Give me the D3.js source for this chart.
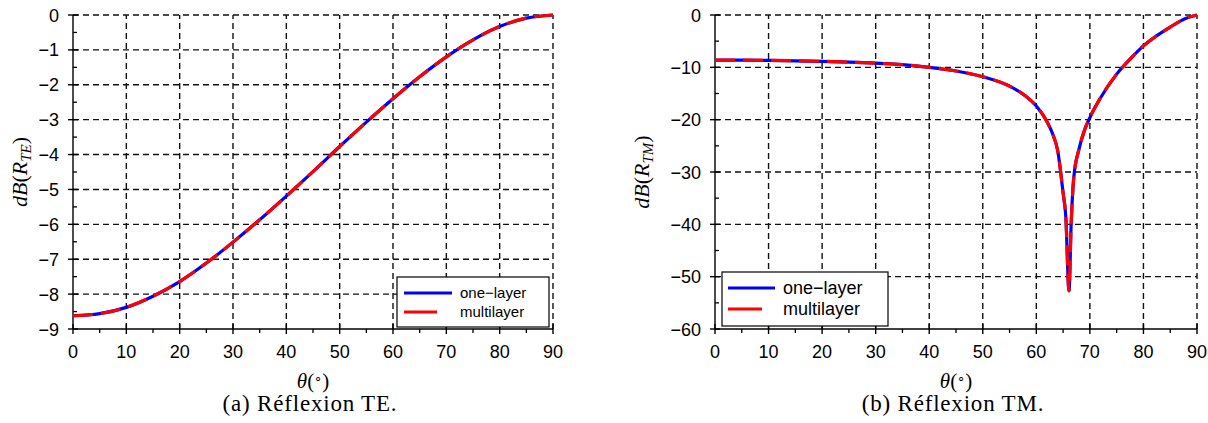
<!DOCTYPE html>
<html>
<head>
<meta charset="utf-8">
<script src="https://cdn.jsdelivr.net/npm/d3@7"></script>
<style>
  html, body { margin: 0; padding: 0; background: #fff; }
  svg { display: block; }
</style>
</head>
<body>
<svg id="chart" width="1208" height="423"></svg>
<script>
// ---------- data ----------
const teTheta = [0, 5, 10, 15, 20, 25, 30, 35, 40, 45, 50, 55, 60, 65, 70, 75, 80, 85, 90];
const teOneLayer = [-8.62, -8.56, -8.38, -8.06, -7.64, -7.11, -6.51, -5.87, -5.19, -4.49, -3.77, -3.07, -2.40, -1.77, -1.20, -0.71, -0.33, -0.09, 0];
const teMultilayer = [-8.62, -8.56, -8.38, -8.06, -7.64, -7.11, -6.51, -5.87, -5.19, -4.49, -3.77, -3.07, -2.40, -1.77, -1.20, -0.71, -0.33, -0.09, 0];

const tmTheta = [0, 5, 10, 15, 20, 25, 30, 35, 40, 45, 50, 55, 58, 60, 62, 63, 64, 65, 65.5, 66.1, 66.5, 67, 68, 69, 70, 72, 75, 78, 80, 83, 85, 88, 90];
const tmOneLayer = [-8.62, -8.64, -8.68, -8.75, -8.85, -9.0, -9.2, -9.5, -10.0, -10.7, -11.8, -13.6, -15.5, -17.4, -20.4, -22.6, -26, -34, -38.5, -52.7, -40, -31, -25.5, -22, -19.6, -15.8, -11.3, -7.9, -5.9, -3.6, -2.3, -0.6, 0];
const tmMultilayer = [-8.62, -8.64, -8.68, -8.75, -8.85, -9.0, -9.2, -9.5, -10.0, -10.7, -11.8, -13.6, -15.5, -17.4, -20.4, -22.6, -26, -34, -38.5, -52.7, -40, -31, -25.5, -22, -19.6, -15.8, -11.3, -7.9, -5.9, -3.6, -2.3, -0.6, 0];

const xTicks = [0, 10, 20, 30, 40, 50, 60, 70, 80, 90];
const teYTicks = [0, -1, -2, -3, -4, -5, -6, -7, -8, -9];
const tmYTicks = [0, -10, -20, -30, -40, -50, -60];
const legendLabels = ["one\u2212layer", "multilayer"];
const seriesColors = ["#0000ff", "#ff0000"];

// ---------- drawing ----------
const svg = d3.select("#chart");

function panel(cfg) {
  const x = d3.scaleLinear().domain([0, 90]).range([cfg.x0, cfg.x1]);
  const y = d3.scaleLinear().domain(cfg.yDomain).range([cfg.yBottom, cfg.yTop]);
  const g = svg.append("g");

  // grid
  const gridStyle = sel => sel.attr("stroke", "#111").attr("stroke-width", 1.4).attr("stroke-dasharray", "6,4").attr("fill", "none");
  g.selectAll(".vg").data(xTicks.filter(d => d !== 0)).enter().append("line")
    .attr("x1", d => x(d)).attr("x2", d => x(d)).attr("y1", cfg.yBottom).attr("y2", cfg.yTop).call(gridStyle);
  g.selectAll(".hg").data(cfg.yTicks.filter(d => d !== cfg.yDomain[0])).enter().append("line")
    .attr("x1", cfg.x0).attr("x2", cfg.x1).attr("y1", d => y(d)).attr("y2", d => y(d)).call(gridStyle);

  // axes lines
  g.append("line").attr("x1", cfg.x0).attr("x2", cfg.x1).attr("y1", cfg.yBottom).attr("y2", cfg.yBottom).attr("stroke", "#000").attr("stroke-width", 1.4);
  g.append("line").attr("x1", cfg.x0).attr("x2", cfg.x0).attr("y1", cfg.yBottom).attr("y2", cfg.yTop).attr("stroke", "#000").attr("stroke-width", 1.4);

  // x ticks major & minor
  g.selectAll(".xt").data(xTicks).enter().append("line")
    .attr("x1", d => x(d)).attr("x2", d => x(d)).attr("y1", cfg.yBottom - 5).attr("y2", cfg.yBottom + 5)
    .attr("stroke", "#000").attr("stroke-width", 1.4);
  const xMinor = xTicks.slice(0, -1).map(d => d + 5);
  g.selectAll(".xm").data(xMinor).enter().append("line")
    .attr("x1", d => x(d)).attr("x2", d => x(d)).attr("y1", cfg.yBottom).attr("y2", cfg.yBottom + 4)
    .attr("stroke", "#000").attr("stroke-width", 1.3);
  g.selectAll(".xl").data(xTicks).enter().append("text")
    .attr("x", d => x(d)).attr("y", cfg.yBottom + 29)
    .attr("text-anchor", "middle")
    .attr("font-family", "'Liberation Sans', Arial, sans-serif").attr("font-size", 18)
    .text(d => d3.format("d")(d));

  // y ticks
  g.selectAll(".yt").data(cfg.yTicks).enter().append("line")
    .attr("x1", cfg.x0 - 5).attr("x2", cfg.x0 + 5).attr("y1", d => y(d)).attr("y2", d => y(d))
    .attr("stroke", "#000").attr("stroke-width", 1.4);
  const step = cfg.yTicks[0] - cfg.yTicks[1];
  const yMinor = cfg.yTicks.slice(0, -1).map(d => d - step / 2);
  g.selectAll(".ym").data(yMinor).enter().append("line")
    .attr("x1", cfg.x0).attr("x2", cfg.x0 + 4).attr("y1", d => y(d)).attr("y2", d => y(d))
    .attr("stroke", "#000").attr("stroke-width", 1.3);
  g.selectAll(".yl").data(cfg.yTicks).enter().append("text")
    .attr("x", cfg.x0 - 14).attr("y", d => y(d) + 6.5)
    .attr("text-anchor", "end")
    .attr("font-family", "'Liberation Sans', Arial, sans-serif").attr("font-size", 18)
    .text(d => d3.format("d")(d));

  // curves
  const line = d3.line().x(d => x(d[0])).y(d => y(d[1])).curve(d3.curveMonotoneX);
  const s1 = cfg.theta.map((t, i) => [t, cfg.v1[i]]);
  const s2 = cfg.theta.map((t, i) => [t, cfg.v2[i]]);
  g.append("path").attr("d", line(s1)).attr("fill", "none").attr("stroke", seriesColors[0]).attr("stroke-width", 3.2);
  g.append("path").attr("d", line(s2)).attr("fill", "none").attr("stroke", seriesColors[1]).attr("stroke-width", 3.2)
    .attr("stroke-dasharray", "20,8");

  // y label
  const yl = g.append("text")
    .attr("transform", `translate(${cfg.yLabelX},${(cfg.yTop + cfg.yBottom) / 2}) rotate(-90)`)
    .attr("text-anchor", "middle")
    .attr("font-family", "'Liberation Serif', 'Times New Roman', serif").attr("font-size", 22);
  yl.append("tspan").attr("font-style", "italic").text("dB");
  yl.append("tspan").text("(");
  yl.append("tspan").attr("font-style", "italic").text("R");
  yl.append("tspan").attr("font-style", "italic").attr("font-size", 15).attr("dy", 4).text(cfg.sub);
  yl.append("tspan").attr("dy", -4).text(")");

  // x label
  const cx = (cfg.x0 + cfg.x1) / 2;
  const xl = g.append("text").attr("x", cx).attr("y", 388).attr("text-anchor", "middle")
    .attr("font-family", "'Liberation Serif', 'Times New Roman', serif").attr("font-size", 21);
  xl.append("tspan").attr("font-style", "italic").text("\u03b8");
  xl.append("tspan").text("(");
  xl.append("tspan").attr("font-size", 13).attr("dy", -6).text("\u2218");
  xl.append("tspan").attr("dy", 6).text(")");

  // caption
  g.append("text").attr("x", cx - 3).attr("y", 411).attr("text-anchor", "middle")
    .attr("font-family", "'Liberation Serif', 'Times New Roman', serif").attr("font-size", 23)
    .attr("letter-spacing", 0.8)
    .text(cfg.caption);

  // legend
  const L = cfg.legend;
  g.append("rect").attr("x", L.x).attr("y", L.y).attr("width", L.w).attr("height", L.h)
    .attr("fill", "#fff").attr("stroke", "#000").attr("stroke-width", 1.2);
  legendLabels.forEach((lab, i) => {
    const ly = L.y + L.rowY[i];
    g.append("line").attr("x1", L.x + L.lineX0).attr("x2", L.x + L.lineX0 + L.lineLen[i])
      .attr("y1", ly).attr("y2", ly).attr("stroke", seriesColors[i]).attr("stroke-width", 3.2);
    g.append("text").attr("x", L.x + L.textX).attr("y", ly + L.fs * 0.36)
      .attr("font-family", "'Liberation Sans', Arial, sans-serif").attr("font-size", L.fs).text(lab);
  });
}

panel({
  x0: 73, x1: 553, yTop: 15, yBottom: 329, yDomain: [-9, 0], yTicks: teYTicks,
  theta: teTheta, v1: teOneLayer, v2: teMultilayer, sub: "TE", yLabelX: 27,
  caption: "(a) R\u00e9flexion TE.",
  legend: { x: 397, y: 277, w: 152, h: 50, rowY: [16, 35], lineX0: 7, lineLen: [48, 33], textX: 63, fs: 15 }
});
panel({
  x0: 715, x1: 1197, yTop: 15, yBottom: 329, yDomain: [-60, 0], yTicks: tmYTicks,
  theta: tmTheta, v1: tmOneLayer, v2: tmMultilayer, sub: "TM", yLabelX: 649,
  caption: "(b) R\u00e9flexion TM.",
  legend: { x: 722, y: 272, w: 166, h: 54, rowY: [16, 37], lineX0: 6, lineLen: [47, 34], textX: 61, fs: 18 }
});
</script>
</body>
</html>
